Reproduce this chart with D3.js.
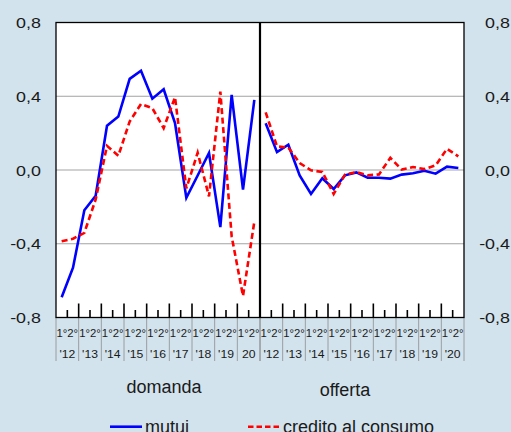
<!DOCTYPE html>
<html>
<head>
<meta charset="utf-8">
<script src="https://cdn.jsdelivr.net/npm/d3@7"></script>
<style>
  html, body { margin: 0; padding: 0; background: #d2e3ed; }
  svg { display: block; }
  text { font-family: "Liberation Sans", Arial, sans-serif; fill: #1a1a1a; }
</style>
</head>
<body>
<svg id="chart" width="511" height="432"></svg>
<script>
// Half-year periods 2012–2020
const years = ["'12", "'13", "'14", "'15", "'16", "'17", "'18", "'19", "'20"];
const yearsDemand = ["'12", "'13", "'14", "'15", "'16", "'17", "'18", "'19", "20"];
const semesters = ["1°", "2°"];
const yTicks = [-0.8, -0.4, 0.0, 0.4, 0.8];
const panelTitles = ["domanda", "offerta"];
const seriesNames = ["mutui", "credito al consumo"];

// Demand side
const demandMutui = [-0.69, -0.53, -0.218, -0.14, 0.24, 0.29, 0.494, 0.538, 0.387, 0.438,
                     0.254, -0.151, -0.03, 0.092, -0.31, 0.407, -0.106, 0.38];
const demandCredito = [-0.386, -0.373, -0.341, -0.16, 0.131, 0.077, 0.263, 0.358, 0.335, 0.227,
                       0.395, -0.1, 0.094, -0.143, 0.425, -0.36, -0.683, -0.28];
// Supply side
const supplyMutui = [0.254, 0.097, 0.137, -0.029, -0.13, -0.045, -0.103, -0.029, -0.013, -0.042,
                     -0.042, -0.047, -0.025, -0.018, -0.004, -0.02, 0.018, 0.011];
const supplyCredito = [0.313, 0.128, 0.122, 0.038, -0.002, -0.011, -0.13, -0.025, -0.011, -0.029,
                       -0.024, 0.066, 0.002, 0.016, 0.005, 0.025, 0.115, 0.074];

const svg = d3.select("#chart");
const plotLeft = 56, plotMid = 260, plotRight = 464, plotTop = 22.5, plotBottom = 317.5;
const fmt = v => d3.format(".1f")(v).replace(".", ",").replace("−", "-");

const y = d3.scaleLinear().domain([-0.8, 0.8]).range([plotBottom, plotTop]);

const periods = years.flatMap((yr, i) => semesters.map(s => i + "-" + s));

const panels = [
  { x0: plotLeft, x1: plotMid, mutui: demandMutui, credito: demandCredito, yrs: yearsDemand,
    title: panelTitles[0], titleX: 164, titleY: 393 },
  { x0: plotMid, x1: plotRight, mutui: supplyMutui, credito: supplyCredito, yrs: years,
    title: panelTitles[1], titleX: 345, titleY: 395.5 }
];

// plot background
svg.append("rect").attr("x", plotLeft).attr("y", plotTop)
  .attr("width", plotRight - plotLeft).attr("height", plotBottom - plotTop).attr("fill", "#fff");

// horizontal grid
svg.append("g").selectAll("line").data(yTicks.filter(v => v > -0.8 && v < 0.8)).join("line")
  .attr("x1", plotLeft).attr("x2", plotRight)
  .attr("y1", d => y(d)).attr("y2", d => y(d))
  .attr("stroke", "#a3a3a3").attr("stroke-width", 1);

panels.forEach(p => {
  const xb = d3.scaleBand().domain(periods).range([p.x0, p.x1]);
  const xy = d3.scaleBand().domain(d3.range(years.length)).range([p.x0, p.x1]);
  const cx = i => xb(periods[i]) + xb.bandwidth() / 2;

  // ticks on the bottom edge: tall at year boundaries, short between semesters
  const g = svg.append("g");
  d3.range(1, years.length).forEach(k => {
    g.append("line").attr("x1", xy(k)).attr("x2", xy(k))
      .attr("y1", plotBottom - 14).attr("y2", plotBottom).attr("stroke", "#000").attr("stroke-width", 1.6);
  });
  d3.range(years.length).forEach(k => {
    const xm = xy(k) + xy.bandwidth() / 2;
    g.append("line").attr("x1", xm).attr("x2", xm)
      .attr("y1", plotBottom - 7.5).attr("y2", plotBottom).attr("stroke", "#000").attr("stroke-width", 1.6);
  });

  // category separators and labels below the axis
  d3.range(years.length + 1).forEach(k => {
    const xv = k < years.length ? xy(k) : p.x1;
    g.append("line").attr("x1", xv).attr("x2", xv)
      .attr("y1", plotBottom).attr("y2", 361).attr("stroke", "#8c8c8c").attr("stroke-width", 0.8);
  });
  d3.range(years.length).forEach(k => {
    const xm = xy(k) + xy.bandwidth() / 2;
    g.append("text").attr("transform", `translate(${xm},337) scale(1.1,1)`)
      .attr("text-anchor", "middle").style("font-size", "10.3px").attr("fill", "#333")
      .text(semesters.join(""));
    g.append("text").attr("transform", `translate(${xm},357.5) scale(1.15,1)`)
      .attr("text-anchor", "middle").style("font-size", "10.6px").attr("fill", "#333")
      .text(p.yrs[k]);
  });

  const line = d3.line().x((d, i) => cx(i)).y(d => y(d));
  svg.append("path").datum(p.mutui).attr("d", line)
    .attr("fill", "none").attr("stroke", "#0000ff").attr("stroke-width", 2.6);
  svg.append("path").datum(p.credito).attr("d", line)
    .attr("fill", "none").attr("stroke", "#ff0000").attr("stroke-width", 2.6)
    .attr("stroke-dasharray", "6,3.5");

  svg.append("text").attr("x", p.titleX).attr("y", p.titleY)
    .attr("text-anchor", "middle").style("font-size", "18px").text(p.title);
});

// frame and divider
svg.append("rect").attr("x", plotLeft).attr("y", plotTop)
  .attr("width", plotRight - plotLeft).attr("height", plotBottom - plotTop)
  .attr("fill", "none").attr("stroke", "#000").attr("stroke-width", 1.3);
svg.append("line").attr("x1", plotMid).attr("x2", plotMid).attr("y1", plotTop).attr("y2", plotBottom)
  .attr("stroke", "#000").attr("stroke-width", 2.2);

// value axes on both sides
yTicks.forEach(v => {
  svg.append("text").attr("transform", `translate(41,${y(v) + 5.5}) scale(1.17,1)`)
    .attr("text-anchor", "end").style("font-size", "15.3px").text(fmt(v));
  svg.append("text").attr("transform", `translate(510,${y(v) + 5.5}) scale(1.17,1)`)
    .attr("text-anchor", "end").style("font-size", "15.3px").text(fmt(v));
});

// legend
const lg = svg.append("g");
lg.append("line").attr("x1", 110).attr("x2", 142).attr("y1", 426.7).attr("y2", 426.7)
  .attr("stroke", "#0000ff").attr("stroke-width", 2.6);
lg.append("text").attr("x", 145).attr("y", 432.5).style("font-size", "18px").text(seriesNames[0]);
lg.append("line").attr("x1", 248).attr("x2", 280).attr("y1", 426.7).attr("y2", 426.7)
  .attr("stroke", "#ff0000").attr("stroke-width", 2.6).attr("stroke-dasharray", "5.5,3");
lg.append("text").attr("x", 283).attr("y", 432.5).style("font-size", "18px").text(seriesNames[1]);
</script>
</body>
</html>
